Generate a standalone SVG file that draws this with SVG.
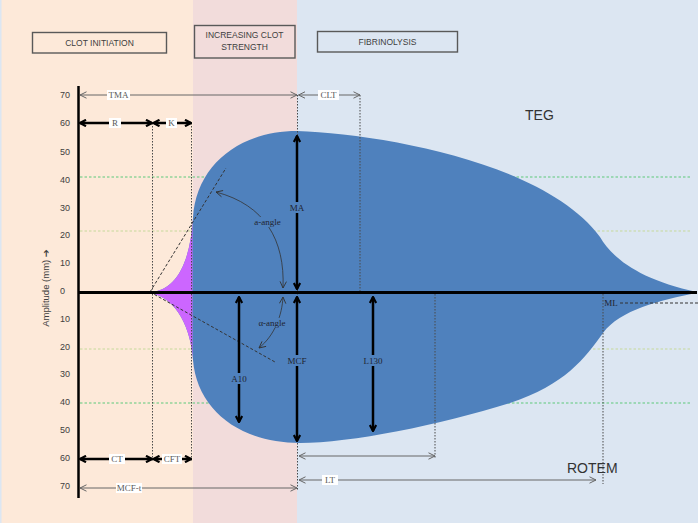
<svg xmlns="http://www.w3.org/2000/svg" width="698" height="523" viewBox="0 0 698 523">
<style>
.num{font-family:"Liberation Sans",Arial,sans-serif;font-size:9px;fill:#404040}
.box{fill:none;stroke:#595959;stroke-width:1.4}
.boxt{font-family:"Liberation Sans",Arial,sans-serif;font-size:8.5px;fill:#404040;text-anchor:middle}
.big{font-family:"Liberation Sans",Arial,sans-serif;font-size:14px;fill:#333}
.lbl{font-family:"Liberation Serif","Times New Roman",serif;font-size:9px;fill:#595959;text-anchor:middle}
.lbb{font-family:"Liberation Serif","Times New Roman",serif;font-size:9px;fill:#1f2430;text-anchor:middle}
.dot{stroke:#4a4a4a;stroke-width:1;stroke-dasharray:1.5 1.5;fill:none}
.dash{stroke:#333;stroke-width:1;stroke-dasharray:3 2;fill:none}
.thick{stroke:#000;stroke-width:2.5;fill:none;marker-start:url(#hb);marker-end:url(#hb)}
.thin{stroke:#666;stroke-width:1;fill:none;marker-start:url(#ht);marker-end:url(#ht)}
.curv{stroke:#333;stroke-width:0.8;fill:none;marker-start:url(#hc);marker-end:url(#hc)}
.gG{stroke:#5cc97a;stroke-width:1;stroke-dasharray:2.5 2;fill:none}
.gY{stroke:#c6d99a;stroke-width:1;stroke-dasharray:2.5 2;fill:none}
.wb{fill:#fff}
.bb{fill:#4f81bd}
</style>
<defs>
<marker id="hb" viewBox="0 0 8 8" refX="7" refY="4" markerWidth="8" markerHeight="8" markerUnits="userSpaceOnUse" orient="auto-start-reverse"><path d="M1,0.8 L7,4 L1,7.2" fill="none" stroke="#000" stroke-width="2.2"/></marker>
<marker id="ht" viewBox="0 0 8 8" refX="7.5" refY="4" markerWidth="8" markerHeight="8" markerUnits="userSpaceOnUse" orient="auto-start-reverse"><path d="M1,0.8 L7.5,4 L1,7.2" fill="none" stroke="#666" stroke-width="1"/></marker>
<marker id="hc" viewBox="0 0 8 8" refX="7.5" refY="4" markerWidth="8" markerHeight="8" markerUnits="userSpaceOnUse" orient="auto-start-reverse"><path d="M1,0.8 L7.5,4 L1,7.2" fill="none" stroke="#333" stroke-width="0.9"/></marker>
<clipPath id="leftclip"><rect x="140" y="150" width="52.5" height="250"/></clipPath>
<path id="curve" d="M150,292 C175,291 190,265 193,218 C196,165 240,131 297,131 C380,134 545,162 600,237 C612,258 640,280 697,292 L697,293 C660,300 620,310 603,333 C585,358 565,385 510,403 C440,425 350,443 300,443 C240,443 197,410 193,360 C191,330 178,298 150,293 Z"/>
</defs>

<g id="background">
<rect x="0" y="0" width="193" height="523" fill="#fde9d9"/>
<rect x="193" y="0" width="104" height="523" fill="#f2dcdb"/>
<rect x="297" y="0" width="401" height="523" fill="#dce6f2"/>
<rect x="0" y="0" width="1.5" height="523" fill="#dce6f2"/>
</g>

<g id="phase-clot-initiation">
<rect class="box" x="32.5" y="32.5" width="134" height="20.5"/>
<text class="boxt" x="99.5" y="46">CLOT INITIATION</text>
</g>
<g id="phase-increasing-strength">
<rect class="box" x="194.5" y="25.5" width="100.5" height="32.5"/>
<text class="boxt" x="244.5" y="38">INCREASING CLOT</text>
<text class="boxt" x="244.5" y="50">STRENGTH</text>
</g>
<g id="phase-fibrinolysis">
<rect class="box" x="317.5" y="31.5" width="140" height="20.5"/>
<text class="boxt" x="387.5" y="45">FIBRINOLYSIS</text>
</g>

<g id="gridlines">
<path class="gG" d="M80,177 H690"/>
<path class="gY" d="M80,231 H690"/>
<path class="gY" d="M80,349 H690"/>
<path class="gG" d="M80,403 H690"/>
</g>

<g id="trace">
<use href="#curve" fill="#4f81bd"/>
<use href="#curve" fill="#cc66ff" clip-path="url(#leftclip)"/>
</g>

<g id="guides">
<path class="dot" d="M152.5,123 V462"/>
<path class="dot" d="M191.5,123 V462"/>
<path class="dot" d="M297.5,95 V490"/>
<path class="dot" d="M360,95 V292"/>
<path class="dot" d="M435,294 V459"/>
<path class="dot" d="M603,294 V484"/>
<path class="dash" d="M620,303 H698"/>
<path class="dash" d="M150,292 L226,168"/>
<path class="dash" d="M150,292 L275,362"/>
</g>

<g id="axes">
<path d="M78.5,86 V498" stroke="#000" stroke-width="2.5"/>
<path d="M78,292.5 H697" stroke="#000" stroke-width="2.8"/>
<text class="num" x="60" y="98">70</text>
<text class="num" x="60" y="126">60</text>
<text class="num" x="60" y="155">50</text>
<text class="num" x="60" y="183">40</text>
<text class="num" x="60" y="211">30</text>
<text class="num" x="60" y="238">20</text>
<text class="num" x="60" y="266">10</text>
<text class="num" x="60" y="294">0</text>
<text class="num" x="60" y="322">10</text>
<text class="num" x="60" y="350">20</text>
<text class="num" x="60" y="377">30</text>
<text class="num" x="60" y="405">40</text>
<text class="num" x="60" y="433">50</text>
<text class="num" x="60" y="461">60</text>
<text class="num" x="60" y="489">70</text>
<text font-family="Liberation Sans,DejaVu Sans,sans-serif" font-size="9.5" fill="#404040" text-anchor="middle" transform="translate(48.5,288) rotate(-90)">Amplitude (mm) ➔</text>
</g>

<g id="connectors">
<path class="thin" d="M80,95 H297"/>
<path class="thin" d="M298.5,95 H360"/>
<path class="thick" d="M80,123 H152"/>
<path class="thick" d="M153.5,123 H191"/>
<path class="thick" d="M80,459 H152"/>
<path class="thick" d="M153.5,459 H191"/>
<path class="thin" d="M80,488 H297"/>
<path class="thin" d="M299,456 H435"/>
<path class="thin" d="M299,480 H596"/>
<path class="thick" d="M297,136 V289"/>
<path class="thick" d="M297,297 V441"/>
<path class="thick" d="M239,297 V422"/>
<path class="thick" d="M373,297 V431"/>
<path class="curv" d="M283,288 C285,240 265,205 216,192"/>
<path class="curv" d="M283,297 C282,315 275,335 259,348"/>
</g>

<g id="labels">
<rect class="wb" x="107" y="90" width="23" height="10"/>
<text class="lbl" x="118.5" y="98">TMA</text>
<rect class="wb" x="318" y="90" width="21" height="10"/>
<text class="lbl" x="328.5" y="98">CLT</text>
<rect class="wb" x="109" y="118" width="12" height="10"/>
<text class="lbl" x="115" y="126">R</text>
<rect class="wb" x="166" y="118" width="11" height="10"/>
<text class="lbl" x="171.5" y="126">K</text>
<rect class="wb" x="109" y="454" width="16" height="10"/>
<text class="lbl" x="117" y="462">CT</text>
<rect class="wb" x="162" y="454" width="20" height="10"/>
<text class="lbl" x="172" y="462">CFT</text>
<rect class="wb" x="116" y="483" width="26" height="10"/>
<text class="lbl" x="129" y="491">MCF-t</text>
<rect class="wb" x="322" y="475" width="16" height="10"/>
<text class="lbl" x="330" y="483">LT</text>
<rect class="bb" x="288" y="202" width="18" height="11"/>
<text class="lbb" x="297" y="211">MA</text>
<rect class="bb" x="286" y="355" width="22" height="11"/>
<text class="lbb" x="297" y="364">MCF</text>
<rect class="bb" x="229" y="373" width="20" height="11"/>
<text class="lbb" x="239" y="382">A10</text>
<rect class="bb" x="362" y="355" width="22" height="11"/>
<text class="lbb" x="373" y="364">L130</text>
<rect class="bb" x="254" y="217" width="27" height="10"/>
<text class="lbb" x="267.5" y="225" font-size="8">a-angle</text>
<rect class="bb" x="258" y="318" width="28" height="10"/>
<text class="lbb" x="272" y="326" font-size="8">α-angle</text>
<text class="lbb" x="611" y="306" font-size="8">ML</text>
<text class="big" x="525" y="120">TEG</text>
<text class="big" x="567" y="473">ROTEM</text>
</g>
</svg>
